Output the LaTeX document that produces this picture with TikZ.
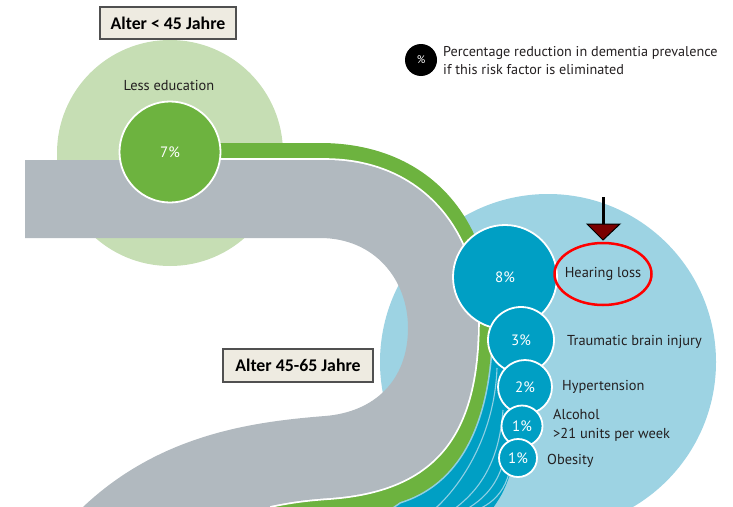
\documentclass[tikz,border=0pt]{standalone}
\usepackage{fontspec}
\setmainfont{PT Sans}
\newfontfamily\boxfont{Carlito}
\usetikzlibrary{shapes.geometric}
\definecolor{lgreenc}{HTML}{C6DEB4}
\definecolor{greenc}{HTML}{6DB33F}
\definecolor{greyc}{HTML}{B1B9BF}
\definecolor{lbluec}{HTML}{9DD3E3}
\definecolor{tealc}{HTML}{009FC4}
\definecolor{llinec}{HTML}{8FD0E4}
\definecolor{boxfillc}{HTML}{EEEBE1}
\definecolor{boxdrawc}{HTML}{505050}
\definecolor{darkredc}{HTML}{7A0000}
\definecolor{textc}{HTML}{231F20}
\begin{document}
\begin{tikzpicture}[x=1pt,y=-1pt,
  lbl/.style={font=\fontsize{14.4}{16}\selectfont, text=textc, inner sep=0},
  pct/.style={circle, fill=tealc, draw=white, line width=1.8pt, text=white,
    font=\fontsize{15}{16}\selectfont, inner sep=0},
  agebox/.style={draw=boxdrawc, fill=boxfillc, line width=1.2pt,
    font=\boxfont\bfseries\fontsize{17.8}{19}\selectfont, inner sep=0, text=black},
  streamline/.style={draw=llinec, line width=1.1pt}]
\useasboundingbox (0,0) rectangle (733,506);
\clip (0,0) rectangle (733,506);
% background circles
\fill[lgreenc] (170,153) circle[radius=113];
\fill[lbluec] (548,362) circle[radius=168];
% teal stream band
\fill[tealc] (500,290) -- (521,340) -- (525,387) -- (522,426) -- (518,458) -- (510,474)
  .. controls (505,490) and (499,500) .. (490,512) -- (482,530) -- (360,530)
  -- (380,450) -- (450,340) -- (470,285) -- cycle;
\draw[streamline] (497,368) .. controls (495,425) and (470,475) .. (438,506) -- (420,520);
\draw[streamline] (503,410) .. controls (500,450) and (488,482) .. (458,506) -- (440,520);
\draw[streamline] (507,443) .. controls (504,470) and (494,492) .. (470,507) -- (455,520);
\draw[streamline] (509,473) .. controls (505,488) and (497,500) .. (481,508) -- (470,520);
\draw[llinec, line width=3.2pt] (492,320) .. controls (492,430) and (455,485) .. (400,502) -- (360,530);
% green band
\fill[greenc] (170,143) -- (320,143) .. controls (430,143) and (492,220) .. (492,320)
  .. controls (492,430) and (455,485) .. (400,502) -- (360,530) -- (200,530)
  -- (280,470) -- (380,450) -- (450,340) -- (420,220) -- (320,200) -- (170,200) -- cycle;
% grey band
\draw[white, line width=3.6pt] (200,160) -- (325,160) .. controls (420,160) and (478,230) .. (478,320)
  .. controls (478,430) and (440,490) .. (330,498) .. controls (300,500) and (285,503) .. (270,506) -- (230,512);
\fill[greyc] (25,160) -- (325,160) .. controls (420,160) and (478,230) .. (478,320)
  .. controls (478,430) and (440,490) .. (330,498) .. controls (300,500) and (285,503) .. (270,506)
  -- (262,540) -- (60,540) -- (70,520) .. controls (150,435) and (250,422) .. (325,416)
  .. controls (375,412) and (408,380) .. (408,328) .. controls (408,280) and (375,238) .. (320,238)
  -- (25,238) -- cycle;
% percentage circles
\node[pct, fill=greenc, minimum size=101] (c7) at (170,152) {7\%};
\node[pct, minimum size=104] (c8) at (505,277) {8\%};
\node[pct, minimum size=66] (c3) at (521,340) {3\%};
\node[pct, minimum size=54] (c2) at (525,387) {2\%};
\node[pct, minimum size=41] (c1a) at (522,426) {1\%};
\node[pct, minimum size=38] (c1b) at (518,458) {1\%};
% labels
\node[lbl] (less) at (169,85) {Less education};
\node[draw=red, line width=2.5pt, ellipse, inner sep=0, minimum width=97, minimum height=62] (hearring) at (603,274) {};
\node[lbl] (hear) at (hearring.center) {Hearing loss};
\node[lbl, anchor=west] (tbi) at (567,342) {Traumatic brain injury};
\node[lbl, anchor=west] (hyp) at (562,387) {Hypertension};
\node[lbl, anchor=west, align=left, font=\fontsize{14.4}{19}\selectfont] (alc) at (553,425.5) {Alcohol\\>21 units per week};
\node[lbl, anchor=west] (obe) at (547,461) {Obesity};
% legend
\node[circle, fill=black, minimum size=32, inner sep=0, text=white, font=\fontsize{11}{12}\selectfont] (leg) at (421,60) {\%};
\node[lbl, anchor=west, align=left, font=\fontsize{14.2}{18}\selectfont] (legtext) at (443,61) {Percentage reduction in dementia prevalence\\if this risk factor is eliminated};
% age boxes
\node[agebox, minimum width=136, minimum height=32] (age1) at (168,23) {Alter < 45 Jahre};
\node[agebox, minimum width=150, minimum height=33] (age2) at (298,365.5) {Alter 45-65 Jahre};
% arrow
\coordinate (arrtop) at (603,197);
\coordinate (arrbase) at (603,225);
\draw[black, line width=3pt] (arrtop) -- (arrbase);
\filldraw[fill=darkredc, draw=black, line width=1pt, line join=miter] (587,224) -- (620,224) -- (603,240) -- cycle;
\end{tikzpicture}
\end{document}
